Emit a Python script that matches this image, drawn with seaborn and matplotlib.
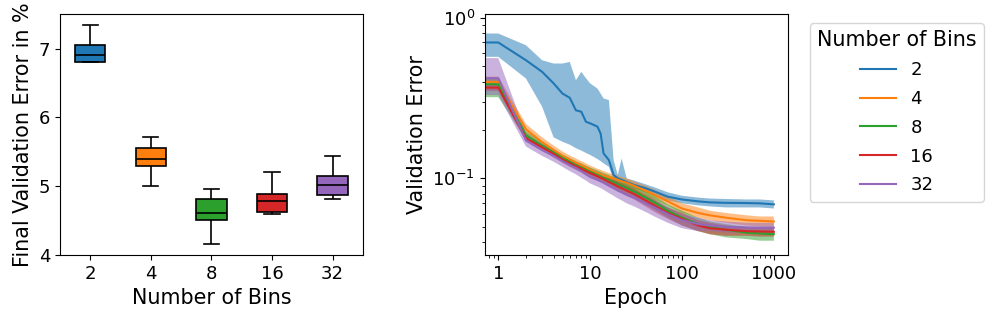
import numpy as np
import pandas as pd
import matplotlib
matplotlib.use("Agg")
import matplotlib.pyplot as plt
import matplotlib.ticker as mticker
import seaborn as sns

### DATA

bins = ["2", "4", "8", "16", "32"]
colors = sns.color_palette("tab10", 5)

# final validation error in % (five runs per setting)
final_err_2 = [6.80, 6.81, 6.91, 7.05, 7.34]
final_err_4 = [5.00, 5.30, 5.40, 5.55, 5.72]
final_err_8 = [4.16, 4.51, 4.61, 4.81, 4.96]
final_err_16 = [4.60, 4.63, 4.78, 4.88, 5.20]
final_err_32 = [4.81, 4.87, 5.02, 5.15, 5.44]

epochs = [0, 1, 2, 3, 4, 5, 6, 7, 8, 9, 10, 12, 13, 14, 16, 18, 20, 22, 25, 30,
          40, 50, 70, 100, 150, 200, 300, 500, 700, 1000]

mean_2 = [0.70, 0.70, 0.543, 0.46, 0.39, 0.337, 0.317, 0.265, 0.26, 0.225, 0.22, 0.21, 0.19, 0.143, 0.13,
          0.105, 0.10, 0.098, 0.095, 0.091, 0.087, 0.083, 0.077, 0.074, 0.072, 0.071, 0.0705, 0.0703, 0.070, 0.069]
lo_2 = [0.57, 0.57, 0.418, 0.279, 0.18, 0.169, 0.162, 0.154, 0.149, 0.144, 0.14, 0.132, 0.128, 0.124, 0.118,
        0.098, 0.094, 0.092, 0.089, 0.086, 0.082, 0.078, 0.073, 0.070, 0.068, 0.067, 0.066, 0.066, 0.066, 0.065]
hi_2 = [0.796, 0.796, 0.673, 0.543, 0.518, 0.518, 0.53, 0.408, 0.46, 0.42, 0.39, 0.362, 0.337, 0.314, 0.307,
        0.13, 0.105, 0.133, 0.10, 0.097, 0.092, 0.088, 0.082, 0.078, 0.076, 0.075, 0.0745, 0.074, 0.074, 0.073]

mean_4 = [0.398, 0.398, 0.202, 0.168, 0.150, 0.138, 0.131, 0.125, 0.121, 0.117, 0.113, 0.108, 0.106, 0.104, 0.102,
          0.100, 0.098, 0.096, 0.094, 0.090, 0.084, 0.079, 0.072, 0.065, 0.061, 0.059, 0.057, 0.055, 0.0545, 0.054]
lo_4 = [0.37, 0.37, 0.188, 0.158, 0.141, 0.130, 0.123, 0.118, 0.114, 0.110, 0.107, 0.102, 0.100, 0.098, 0.096,
        0.094, 0.092, 0.090, 0.088, 0.084, 0.078, 0.074, 0.068, 0.061, 0.057, 0.055, 0.053, 0.051, 0.0505, 0.050]
hi_4 = [0.43, 0.43, 0.218, 0.180, 0.160, 0.147, 0.139, 0.133, 0.128, 0.124, 0.120, 0.115, 0.113, 0.111, 0.108,
        0.106, 0.104, 0.102, 0.100, 0.096, 0.090, 0.085, 0.077, 0.070, 0.066, 0.063, 0.061, 0.059, 0.058, 0.058]

mean_8 = [0.385, 0.385, 0.185, 0.160, 0.145, 0.134, 0.127, 0.121, 0.117, 0.113, 0.110, 0.105, 0.103, 0.101, 0.098,
          0.095, 0.092, 0.090, 0.087, 0.083, 0.076, 0.071, 0.063, 0.057, 0.052, 0.050, 0.048, 0.046, 0.0455, 0.045]
lo_8 = [0.32, 0.32, 0.174, 0.151, 0.137, 0.127, 0.120, 0.114, 0.110, 0.106, 0.103, 0.098, 0.096, 0.094, 0.091,
        0.088, 0.085, 0.083, 0.080, 0.076, 0.069, 0.064, 0.057, 0.051, 0.047, 0.045, 0.043, 0.042, 0.041, 0.041]
hi_8 = [0.42, 0.42, 0.196, 0.169, 0.153, 0.141, 0.134, 0.128, 0.124, 0.120, 0.117, 0.112, 0.110, 0.108, 0.105,
        0.102, 0.099, 0.097, 0.094, 0.090, 0.083, 0.078, 0.069, 0.063, 0.057, 0.054, 0.052, 0.050, 0.049, 0.049]

mean_16 = [0.367, 0.367, 0.178, 0.156, 0.142, 0.131, 0.124, 0.119, 0.115, 0.111, 0.108, 0.103, 0.101, 0.099, 0.095,
           0.092, 0.089, 0.087, 0.084, 0.080, 0.073, 0.068, 0.061, 0.056, 0.051, 0.049, 0.048, 0.047, 0.0468, 0.0466]
lo_16 = [0.35, 0.35, 0.170, 0.149, 0.135, 0.125, 0.118, 0.113, 0.109, 0.105, 0.102, 0.097, 0.095, 0.093, 0.089,
         0.086, 0.083, 0.081, 0.078, 0.074, 0.067, 0.062, 0.056, 0.051, 0.047, 0.045, 0.044, 0.044, 0.0435, 0.0435]
hi_16 = [0.385, 0.385, 0.186, 0.163, 0.149, 0.137, 0.130, 0.125, 0.121, 0.117, 0.114, 0.109, 0.107, 0.105, 0.101,
         0.098, 0.095, 0.093, 0.090, 0.086, 0.079, 0.074, 0.066, 0.061, 0.055, 0.053, 0.051, 0.050, 0.050, 0.050]

mean_32 = [0.42, 0.42, 0.172, 0.150, 0.138, 0.128, 0.121, 0.116, 0.111, 0.106, 0.102, 0.098, 0.096, 0.094, 0.090,
           0.087, 0.084, 0.082, 0.079, 0.076, 0.070, 0.066, 0.060, 0.055, 0.052, 0.051, 0.050, 0.0495, 0.0494, 0.0494]
lo_32 = [0.33, 0.33, 0.158, 0.138, 0.127, 0.118, 0.111, 0.106, 0.101, 0.097, 0.093, 0.089, 0.087, 0.085, 0.081,
         0.078, 0.075, 0.073, 0.070, 0.067, 0.062, 0.058, 0.053, 0.049, 0.047, 0.047, 0.046, 0.046, 0.046, 0.046]
hi_32 = [0.56, 0.56, 0.190, 0.163, 0.149, 0.138, 0.131, 0.126, 0.121, 0.115, 0.111, 0.107, 0.105, 0.103, 0.099,
         0.096, 0.093, 0.091, 0.088, 0.084, 0.077, 0.073, 0.066, 0.060, 0.057, 0.055, 0.054, 0.053, 0.053, 0.053]

final_errs = [final_err_2, final_err_4, final_err_8, final_err_16, final_err_32]
means = [mean_2, mean_4, mean_8, mean_16, mean_32]
lows = [lo_2, lo_4, lo_8, lo_16, lo_32]
highs = [hi_2, hi_4, hi_8, hi_16, hi_32]

### STYLE

plt.rcParams.update({
    "font.family": ["DejaVu Sans"],
    "xtick.labelsize": 13,
    "ytick.labelsize": 13,
    "axes.labelsize": 14.9,
    "legend.fontsize": 13,
    "legend.title_fontsize": 14.9,
})

fig = plt.figure(figsize=(9.97, 3.22), dpi=100)
ax1 = fig.add_axes([0.060, 0.208, 0.304, 0.748])
ax2 = fig.add_axes([0.486, 0.208, 0.304, 0.748])

### LEFT: boxplot of final error

box_df = pd.concat(
    [pd.DataFrame({"Number of Bins": b, "err": v}) for b, v in zip(bins, final_errs)],
    ignore_index=True,
)
sns.boxplot(
    data=box_df, x="Number of Bins", y="err", hue="Number of Bins",
    order=bins, hue_order=bins, palette=colors, saturation=1, width=0.5,
    linecolor="black", linewidth=1.2, legend=False, ax=ax1,
)
ax1.set_ylabel("Final Validation Error in %")
ax1.set_xlabel("Number of Bins")
ax1.set_yticks([4, 5, 6, 7])

### RIGHT: validation error curves

# shaded bands first, lines on top
for c, lo, hi in zip(colors, lows, highs):
    ax2.fill_between(epochs, lo, hi, color=c, alpha=0.5, linewidth=0)

line_df = pd.concat(
    [pd.DataFrame({"Epoch": epochs, "err": m, "Number of Bins": b}) for b, m in zip(bins, means)],
    ignore_index=True,
)
sns.lineplot(
    data=line_df, x="Epoch", y="err", hue="Number of Bins",
    hue_order=bins, palette=colors, estimator=None, linewidth=1.5, ax=ax2,
)
ax2.set_xscale("log")
ax2.set_yscale("log")
ax2.set_ylim(0.0334, 1.05)
ax2.set_xticks([1, 10, 100, 1000])
ax2.xaxis.set_major_formatter(mticker.FuncFormatter(lambda v, p: f"{v:g}"))
ax2.set_xlabel("Epoch")
ax2.set_ylabel("Validation Error")

sns.move_legend(
    ax2, "upper left", bbox_to_anchor=(1.0726, 0.963), borderaxespad=0,
    title="Number of Bins", frameon=True, labelspacing=0.6,
)

fig.savefig("out.png", dpi=100)
